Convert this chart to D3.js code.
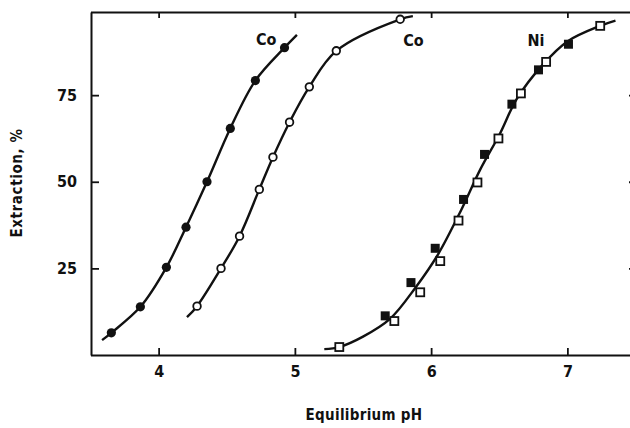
<!DOCTYPE html>
<html>
<head>
<meta charset="utf-8">
<script src="https://cdn.jsdelivr.net/npm/d3@7"></script>
<style>
  html, body { margin: 0; padding: 0; background: #fff; }
  svg { display: block; }
  text { font-family: "Liberation Sans Narrow", "DejaVu Sans Condensed", "Arial Narrow", sans-serif; font-weight: bold; fill: #111; }
</style>
</head>
<body>
<svg id="chart" width="630" height="428"></svg>
<script>
// Extraction (%) versus equilibrium pH
const xTicks = [4, 5, 6, 7];
const yTicks = [25, 50, 75];

// Co, filled circles
const coFilledPH = [3.653, 3.866, 4.057, 4.201, 4.355, 4.526, 4.710, 4.924];
const coFilledPct = [6.4, 13.9, 25.3, 36.9, 50.0, 65.4, 79.2, 88.7];
// Co, open circles
const coOpenPH = [4.282, 4.458, 4.594, 4.739, 4.839, 4.961, 5.106, 5.304, 5.773];
const coOpenPct = [14.1, 25.0, 34.3, 47.8, 57.1, 67.2, 77.4, 87.8, 96.9];
// Ni, open squares
const niOpenPH = [5.326, 5.730, 5.920, 6.067, 6.201, 6.340, 6.494, 6.659, 6.844, 7.241];
const niOpenPct = [2.3, 9.8, 18.1, 27.1, 38.8, 49.8, 62.5, 75.5, 84.6, 95.0];
// Ni, filled squares
const niFilledPH = [5.663, 5.852, 6.030, 6.238, 6.392, 6.593, 6.788, 7.008];
const niFilledPct = [11.3, 20.9, 30.8, 44.9, 57.9, 72.4, 82.3, 89.7];

// Smooth fitted curves (points along each drawn line)
const coFilledCurvePH = [3.585, 3.653, 3.866, 4.057, 4.201, 4.355, 4.526, 4.710, 4.924, 5.015];
const coFilledCurvePct = [4.3, 6.4, 13.9, 25.3, 36.9, 50.0, 65.4, 79.2, 88.7, 92.4];
const coOpenCurvePH = [4.208, 4.282, 4.458, 4.594, 4.739, 4.839, 4.961, 5.106, 5.304, 5.773, 5.866];
const coOpenCurvePct = [10.9, 14.1, 25.0, 34.3, 47.8, 57.1, 67.2, 77.4, 87.8, 96.9, 97.8];
const niCurvePH = [5.216, 5.326, 5.50, 5.70, 5.886, 6.05, 6.22, 6.36, 6.50, 6.63, 6.82, 7.00, 7.241, 7.353];
const niCurvePct = [1.7, 2.3, 5.3, 10.5, 19.5, 29.0, 41.8, 53.5, 63.5, 74.0, 83.8, 90.5, 95.0, 96.5];

const curveLabels = ["Co", "Co", "Ni"];
const curveLabelPH = [4.79, 5.87, 6.77];
const curveLabelPct = [89.5, 89.3, 89.3];

const svg = d3.select("#chart");
const x = d3.scaleLinear().domain([3.5, 7.5]).range([90.5, 635.5]);
const y = d3.scaleLinear().domain([0, 99]).range([355, 12]);

const zip = (a, b) => a.map((v, i) => [v, b[i]]);

// Axes: ticks point inward on all four sides
const axisStyle = g => {
  g.attr("font-family", null).attr("font-size", null);
  g.select(".domain").attr("stroke", "#111").attr("stroke-width", 2);
  g.selectAll(".tick line").attr("stroke", "#111").attr("stroke-width", 1.8);
  g.selectAll(".tick text").attr("font-size", 16).attr("fill", "#111");
};

svg.append("g")
  .attr("transform", `translate(0,${y(0)})`)
  .call(d3.axisBottom(x).tickValues(xTicks).tickFormat(d3.format("d"))
    .tickSizeInner(-7).tickSizeOuter(0).tickPadding(11))
  .call(axisStyle);

svg.append("g")
  .attr("transform", `translate(0,${y(99)})`)
  .call(d3.axisTop(x).tickValues(xTicks).tickFormat("")
    .tickSizeInner(-6).tickSizeOuter(0))
  .call(axisStyle);

svg.append("g")
  .attr("transform", `translate(${x(3.5) + 0.5},0)`)
  .call(d3.axisLeft(y).tickValues(yTicks).tickFormat(d3.format("d"))
    .tickSizeInner(-8).tickSizeOuter(0).tickPadding(14))
  .call(axisStyle);

svg.append("g")
  .attr("transform", `translate(637,0)`)
  .call(d3.axisRight(y).tickValues(yTicks).tickFormat("")
    .tickSizeInner(-8).tickSizeOuter(0))
  .call(axisStyle);

// Axis titles
svg.append("text")
  .attr("x", 364).attr("y", 420)
  .attr("text-anchor", "middle")
  .attr("font-size", 15)
  .attr("letter-spacing", 0.3)
  .text("Equilibrium pH");

svg.append("text")
  .attr("transform", `translate(22,${183}) rotate(-90)`)
  .attr("text-anchor", "middle")
  .attr("font-size", 15)
  .attr("letter-spacing", 0.6)
  .text("Extraction, %");

// Fitted curves
const line = d3.line().x(d => x(d[0])).y(d => y(d[1])).curve(d3.curveCatmullRom.alpha(0.5));
const curves = [
  zip(coFilledCurvePH, coFilledCurvePct),
  zip(coOpenCurvePH, coOpenCurvePct),
  zip(niCurvePH, niCurvePct)
];
svg.append("g").selectAll("path").data(curves).join("path")
  .attr("d", line)
  .attr("fill", "none")
  .attr("stroke", "#111")
  .attr("stroke-width", 2.4);

// Markers
svg.append("g").selectAll("circle").data(zip(coFilledPH, coFilledPct)).join("circle")
  .attr("cx", d => x(d[0])).attr("cy", d => y(d[1])).attr("r", 4.6)
  .attr("fill", "#111");

svg.append("g").selectAll("circle").data(zip(coOpenPH, coOpenPct)).join("circle")
  .attr("cx", d => x(d[0])).attr("cy", d => y(d[1])).attr("r", 3.8)
  .attr("fill", "#fff").attr("stroke", "#111").attr("stroke-width", 1.8);

const sq = 8;
svg.append("g").selectAll("rect").data(zip(niFilledPH, niFilledPct)).join("rect")
  .attr("x", d => x(d[0]) - sq / 2 - 0.5).attr("y", d => y(d[1]) - sq / 2 - 0.5)
  .attr("width", sq + 1).attr("height", sq + 1)
  .attr("fill", "#111");

svg.append("g").selectAll("rect").data(zip(niOpenPH, niOpenPct)).join("rect")
  .attr("x", d => x(d[0]) - sq / 2).attr("y", d => y(d[1]) - sq / 2)
  .attr("width", sq).attr("height", sq)
  .attr("fill", "#fff").attr("stroke", "#111").attr("stroke-width", 1.8);

// Curve labels
svg.append("g").selectAll("text").data(curveLabels).join("text")
  .attr("x", (d, i) => x(curveLabelPH[i]))
  .attr("y", (d, i) => y(curveLabelPct[i]))
  .attr("text-anchor", "middle")
  .attr("font-size", 16)
  .text(d => d);
</script>
</body>
</html>
